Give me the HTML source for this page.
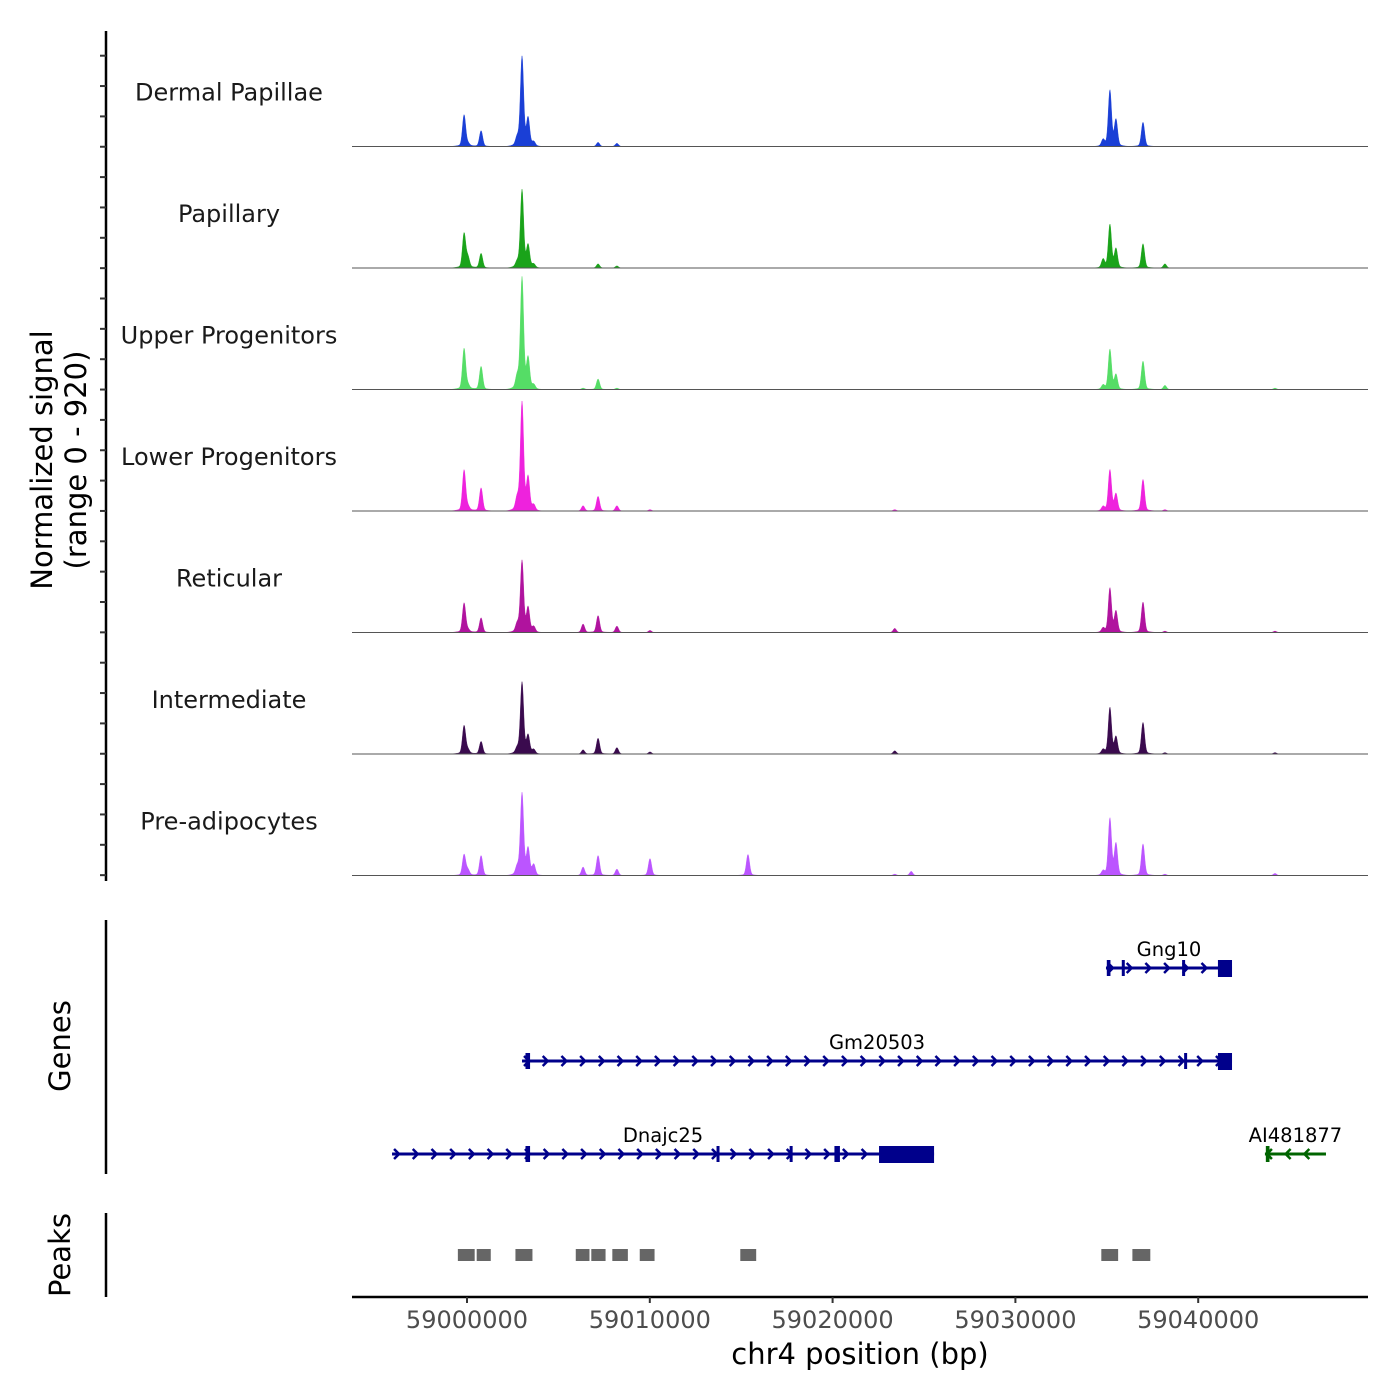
<!DOCTYPE html>
<html><head><meta charset="utf-8"><style>
body{margin:0;background:#fff}
svg{display:block;font-family:"DejaVu Sans","Liberation Sans",sans-serif}
</style></head><body>
<svg id="c" width="1400" height="1400" viewBox="0 0 1400 1400"></svg>
<script>
// ---- data ----
const trackNames = ["Dermal Papillae","Papillary","Upper Progenitors","Lower Progenitors","Reticular","Intermediate","Pre-adipocytes"];
const trackColors = ["#1a3fd6","#1aa31a","#55dd66","#ee22dd","#b0139e","#3a0a4e","#bb55ff"];
const peakPositions = [58999840,59000050,59000770,59002750,59003010,59003340,59003650,59006350,59007170,59008200,59010010,59015370,59023400,59024300,59034800,59035170,59035500,59036980,59038180,59044200];
const dpValues   = [228,20,114,61,645,198,30,0,30,23,0,0,0,0,46,403,190,175,0,0];
const papValues  = [250,76,106,40,562,160,25,0,30,15,0,0,0,0,61,312,137,175,30,0];
const upValues   = [296,30,167,91,805,220,30,10,76,10,0,0,0,0,30,289,106,205,30,10];
const lowValues  = [296,30,167,91,782,236,40,38,106,38,10,0,10,0,30,296,122,228,10,0];
const retValues  = [213,20,106,60,516,175,40,61,122,46,15,0,30,0,30,319,152,220,10,10];
const intValues  = [205,30,91,40,516,130,30,30,114,46,15,0,23,0,30,334,122,228,10,10];
const preValues  = [152,40,144,60,592,190,76,61,144,46,122,152,10,30,30,410,228,228,10,15];
const seriesValues = [dpValues,papValues,upValues,lowValues,retValues,intValues,preValues];
const genes = [
 {name:"Gng10",start:59034955,end:59041850,row:0,strand:1,color:"#00008b",exons:[[59035000,59035200],[59035820,59035900],[59039120,59039200],[59041080,59041850]]},
 {name:"Gm20503",start:59003010,end:59041850,row:1,strand:1,color:"#00008b",exons:[[59003200,59003450],[59039230,59039300],[59041080,59041850]]},
 {name:"Dnajc25",start:58995900,end:59025550,row:2,strand:1,color:"#00008b",exons:[[59003200,59003450],[59013650,59013800],[59017650,59017780],[59020100,59020400],[59022540,59025550]]},
 {name:"AI481877",start:59043650,end:59046990,row:2,strand:-1,color:"#006400",exons:[[59043700,59043900]]}
];
const peakStarts = [58999500,59000530,59002650,59005950,59006800,59007950,59009450,59014950,59034700,59036400];
const peakEnds   = [59000420,59001300,59003580,59006700,59007580,59008800,59010260,59015820,59035620,59037380];
const xTicks = [59000000,59010000,59020000,59030000,59040000];
const signalMax = 920;

// ---- scales ----
const X0=352,X1=1368;
const xs = bp => 467 + (bp-59000000)*0.01828;
const TRACK_H = 121.5, BASE0 = 146.5;
const NS="http://www.w3.org/2000/svg";
const svg=document.getElementById('c');
function el(tag,attrs,parent){const e=document.createElementNS(NS,tag);for(const k in attrs)e.setAttribute(k,attrs[k]);(parent||svg).appendChild(e);return e;}
function txt(s,attrs,parent){const e=el('text',attrs,parent);e.textContent=s;return e;}

el('line',{x1:106,y1:31,x2:106,y2:881,stroke:'#000','stroke-width':2.5,});
for(let y=55.7;y<=880;y+=30.35){el('line',{x1:100,y1:y,x2:106,y2:y,stroke:'#333','stroke-width':2});}
const yl=txt('',{transform:'translate(0,460) rotate(-90)','text-anchor':'middle','font-size':29,fill:'#000',});
const t1=el('tspan',{x:0,y:52},yl);t1.textContent='Normalized signal';
const t2=el('tspan',{x:0,y:86},yl);t2.textContent='(range 0 - 920)';

trackNames.forEach((name,i)=>{
  const base=BASE0+i*TRACK_H;
  const g=el('g',{});
  
  
  txt(name,{x:229,y:base-46,'text-anchor':'middle','font-size':24,fill:'#1a1a1a'},g);
  const vals=seriesValues[i];
  let d=`M${X0},${base}`;
  for(let px=X0;px<=X1;px+=0.5){
    let v=0;
    peakPositions.forEach((p,k)=>{const dx=(px-xs(p))/1.6;v+=vals[k]*Math.exp(-dx*dx/2);});
    peakPositions.forEach((p,k)=>{const dx=(px-xs(p))/6;v+=vals[k]*0.05*Math.exp(-dx*dx/2);});
    const h=Math.min(v,signalMax)/signalMax*TRACK_H;
    d+=`L${px},${(base-h).toFixed(2)}`;
  }
  d+=`L${X1},${base}Z`;
  const p=el('path',{d:d,fill:trackColors[i],stroke:trackColors[i],'stroke-width':0.4},g);
  
  
  el('line',{x1:X0,y1:base,x2:X1,y2:base,stroke:'#555','stroke-width':1},g);
});

el('line',{x1:106,y1:920,x2:106,y2:1174,stroke:'#000','stroke-width':2.5,});
txt('Genes',{transform:'translate(70,1046) rotate(-90)','text-anchor':'middle','font-size':29,fill:'#000',});
const rowY=[968,1061,1154];
genes.forEach(gn=>{
  const g=el('g',{});
  
  
  const y=rowY[gn.row], a=xs(gn.start), b=xs(gn.end);
  el('line',{x1:a,y1:y,x2:b,y2:y,stroke:gn.color,'stroke-width':3},g);
  for(let x=a+2;x<b-4;x+=18.7){
    const pts = gn.strand>0 ? `${x},${y-5} ${x+5},${y} ${x},${y+5}` : `${x+5},${y-5} ${x},${y} ${x+5},${y+5}`;
    el('polyline',{points:pts,fill:'none',stroke:gn.color,'stroke-width':2.5},g);
  }
  gn.exons.forEach(e=>{
    const ea=xs(e[0]),eb=xs(e[1]);const big=(eb-ea)>8;
    el('rect',{x:ea,y:y-8,width:Math.max(eb-ea,3),height:big?17:16,fill:gn.color},g);
  });
  txt(gn.name,{x:(a+b)/2,y:y-12,'text-anchor':'middle','font-size':19.5,fill:'#000'},g);
});

el('line',{x1:106,y1:1213,x2:106,y2:1297,stroke:'#000','stroke-width':2.5,});
txt('Peaks',{transform:'translate(70,1255) rotate(-90)','text-anchor':'middle','font-size':29,fill:'#000',});
peakStarts.forEach((s,i)=>{
  const r=el('rect',{x:xs(s),y:1249,width:xs(peakEnds[i])-xs(s),height:12,fill:'#666'});
  
  
});

el('line',{x1:X0,y1:1297,x2:X1,y2:1297,stroke:'#000','stroke-width':2.5,});
xTicks.forEach(t=>{
  const x=xs(t);
  el('line',{x1:x,y1:1297,x2:x,y2:1303,stroke:'#333','stroke-width':2});
  const l=txt(String(t),{x:x,y:1328,'text-anchor':'middle','font-size':24,fill:'#4d4d4d'});
  
  
});
txt('chr4 position (bp)',{x:860,y:1364,'text-anchor':'middle','font-size':29,fill:'#000',});
</script>
</body></html>
